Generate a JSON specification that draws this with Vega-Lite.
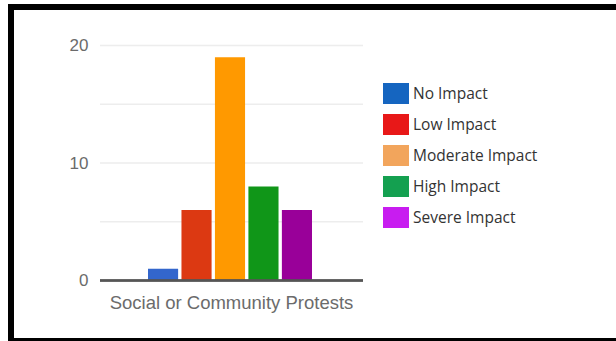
{
  "$schema": "https://vega.github.io/schema/vega-lite/v6.json",
  "width": 605,
  "height": 334,
  "autosize": {"type": "none"},
  "padding": {"left": 11, "top": 7, "right": 0, "bottom": 0},
  "background": "white",
  "config": {
    "view": {"stroke": "black", "strokeWidth": 6, "strokeDash": [605, 334, 939]},
    "font": "Liberation Sans"
  },
  "datasets": {
    "counts": [
      {"category": "Social or Community Protests", "impact": "No Impact", "count": 1},
      {"category": "Social or Community Protests", "impact": "Low Impact", "count": 6},
      {"category": "Social or Community Protests", "impact": "Moderate Impact", "count": 19},
      {"category": "Social or Community Protests", "impact": "High Impact", "count": 8},
      {"category": "Social or Community Protests", "impact": "Severe Impact", "count": 6}
    ],
    "grid": [{"value": 5}, {"value": 10}, {"value": 15}, {"value": 20}]
  },
  "layer": [
    {
      "data": {"name": "grid"},
      "mark": {"type": "tick", "color": "#e6e6e6", "thickness": 1.5, "size": 263},
      "encoding": {
        "x": {"datum": "Social or Community Protests", "type": "nominal"},
        "y": {"field": "value", "type": "quantitative"}
      }
    },
    {
      "data": {"name": "counts"},
      "mark": {"type": "bar"},
      "encoding": {
        "x": {
          "field": "category", "type": "nominal",
          "scale": {"domain": ["Social or Community Protests"], "range": [89, 352], "paddingInner": 0, "paddingOuter": 0},
          "axis": {"orient": "bottom", "offset": -60.5, "domain": false, "ticks": false, "grid": false, "labelPadding": 13, "labelFontSize": 18.5, "labelColor": "#6b6b6b", "labelAngle": 0, "labelAlign": "center", "labelBaseline": "top", "labelLimit": 0, "title": null}
        },
        "xOffset": {
          "field": "impact", "type": "nominal",
          "sort": ["No Impact", "Low Impact", "Moderate Impact", "High Impact", "Severe Impact"],
          "scale": {"range": [48, 212], "paddingInner": 0.1, "paddingOuter": 0}
        },
        "y": {
          "field": "count", "type": "quantitative",
          "scale": {"domain": [-5.15, 23.28], "nice": false, "zero": false},
          "axis": {"values": [0, 10, 20], "offset": -89, "domain": false, "ticks": false, "grid": false, "labelPadding": 12, "labelFontSize": 17, "labelColor": "#6b6b6b", "labelFlush": false, "title": null}
        },
        "y2": {"datum": 0},
        "color": {
          "field": "impact", "type": "nominal",
          "scale": {"domain": ["No Impact", "Low Impact", "Moderate Impact", "High Impact", "Severe Impact"], "range": ["#3366cc", "#dc3912", "#ff9900", "#109618", "#990099"]},
          "legend": null
        }
      }
    },
    {
      "data": {"name": "counts"},
      "mark": {"type": "bar", "opacity": 0},
      "encoding": {
        "x": {"field": "category", "type": "nominal"},
        "xOffset": {"field": "impact", "type": "nominal", "sort": ["No Impact", "Low Impact", "Moderate Impact", "High Impact", "Severe Impact"]},
        "y": {"field": "count", "type": "quantitative"},
        "y2": {"datum": 0},
        "color": {
          "field": "impact", "type": "nominal",
          "scale": {"domain": ["No Impact", "Low Impact", "Moderate Impact", "High Impact", "Severe Impact"], "range": ["#1565c0", "#e81818", "#f2a55c", "#14a050", "#c81cf0"]},
          "legend": {
            "orient": "none", "legendX": 374.5, "legendY": 76, "title": null,
            "symbolType": "M-1.24,-1H1.24V1H-1.24Z", "symbolSize": 441, "symbolOpacity": 1, "symbolStrokeWidth": 0,
            "labelFont": "Open Sans", "labelFontSize": 15.5, "labelColor": "#333333", "labelOffset": 6.5,
            "rowPadding": 10, "padding": 0
          }
        }
      }
    },
    {
      "data": {"name": "counts"},
      "mark": {"type": "tick", "color": "#555555", "thickness": 2, "size": 263},
      "encoding": {
        "x": {"datum": "Social or Community Protests", "type": "nominal"},
        "y": {"datum": 0, "type": "quantitative"}
      }
    }
  ],
  "resolve": {"scale": {"color": "independent"}}
}
